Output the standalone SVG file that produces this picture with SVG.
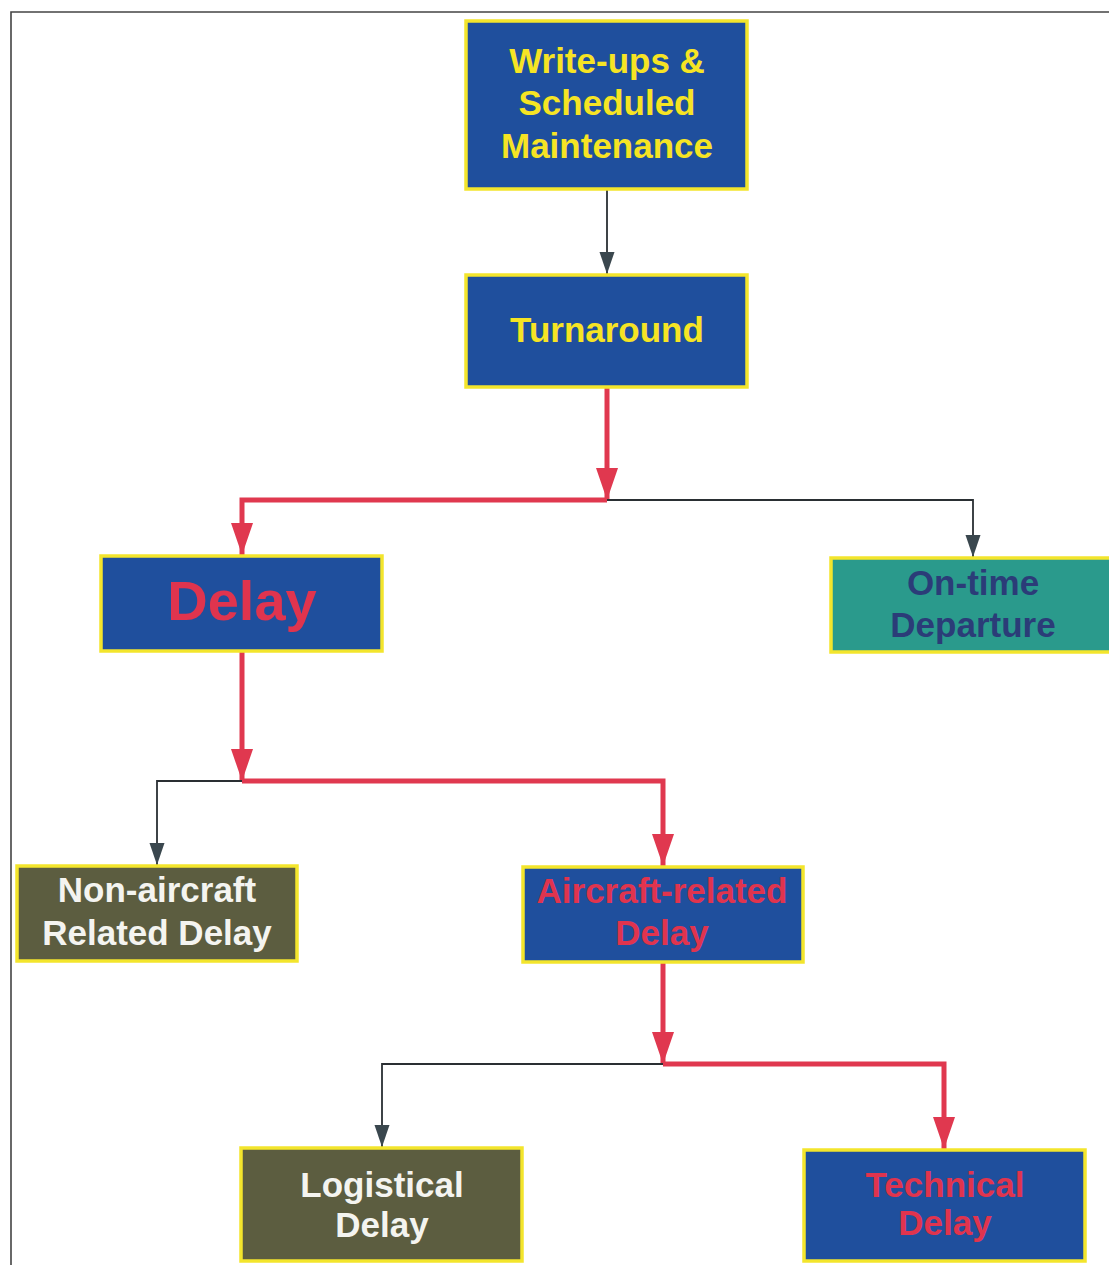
<svg xmlns="http://www.w3.org/2000/svg" width="1109" height="1265" viewBox="0 0 1109 1265">
<defs>
<style>
.box{stroke:#f3e52c;stroke-width:3.5}
.blue{fill:#1f4f9d}
.teal{fill:#2a9a8c}
.olive{fill:#5c5d40}
text{font-family:"Liberation Sans",Arial,sans-serif;font-weight:bold;font-size:35px;text-anchor:middle}
.ty{fill:#f6e424}
.tr{fill:#e0344e}
.tw{fill:#f4f4f0}
.td{fill:#2b3c78}
.red{fill:none;stroke:#e0384f;stroke-width:5}
.blk{fill:none;stroke:#2a2f33;stroke-width:1.8}
</style>
<marker id="ar" markerUnits="userSpaceOnUse" markerWidth="34" markerHeight="24" refX="32" refY="11" orient="auto" viewBox="0 0 34 24">
<path d="M0,0 L32,11 L0,22 z" fill="#e0384f"/>
</marker>
<marker id="ab" markerUnits="userSpaceOnUse" markerWidth="24" markerHeight="16" refX="22" refY="7.5" orient="auto" viewBox="0 0 24 16">
<path d="M0,0 L22,7.5 L0,15 z" fill="#3a474e"/>
</marker>
</defs>
<rect x="0" y="0" width="1109" height="1265" fill="#ffffff"/>
<path d="M11,1265 L11,12 L1109,12" fill="none" stroke="#444" stroke-width="1.6"/>
<g id="connectors">
<path class="blk" d="M607,190 L607,274" marker-end="url(#ab)"/>
<path class="red" d="M607,388 L607,500" marker-end="url(#ar)"/>
<path class="red" d="M607,500 L242,500 L242,555" marker-end="url(#ar)"/>
<path class="blk" d="M607,500 L973,500 L973,557" marker-end="url(#ab)"/>
<path class="red" d="M242,652 L242,781" marker-end="url(#ar)"/>
<path class="blk" d="M242,781 L157,781 L157,865" marker-end="url(#ab)"/>
<path class="red" d="M242,781 L663,781 L663,866" marker-end="url(#ar)"/>
<path class="red" d="M663,963 L663,1064" marker-end="url(#ar)"/>
<path class="blk" d="M663,1064 L382,1064 L382,1147" marker-end="url(#ab)"/>
<path class="red" d="M663,1064 L944,1064 L944,1149" marker-end="url(#ar)"/>
</g>
<g id="writeups">
<rect class="box blue" x="466" y="21" width="281" height="168"/>
<text class="ty" x="607" y="73">Write-ups &amp;</text>
<text class="ty" x="607" y="115">Scheduled</text>
<text class="ty" x="607" y="158">Maintenance</text>
</g>
<g id="turnaround">
<rect class="box blue" x="466" y="275" width="281" height="112"/>
<text class="ty" x="607" y="342">Turnaround</text>
</g>
<g id="delay">
<rect class="box blue" x="101" y="556" width="281" height="95"/>
<text class="tr" x="242" y="620" style="font-size:56px">Delay</text>
</g>
<g id="ontime">
<rect class="box teal" x="831" y="558" width="290" height="94"/>
<text class="td" x="973" y="595">On-time</text>
<text class="td" x="973" y="637">Departure</text>
</g>
<g id="nonaircraft">
<rect class="box olive" x="17" y="866" width="280" height="95"/>
<text class="tw" x="157" y="902">Non-aircraft</text>
<text class="tw" x="157" y="945">Related Delay</text>
</g>
<g id="aircraft">
<rect class="box blue" x="523" y="867" width="280" height="95"/>
<text class="tr" x="662" y="903">Aircraft-related</text>
<text class="tr" x="662" y="945">Delay</text>
</g>
<g id="logistical">
<rect class="box olive" x="241" y="1148" width="281" height="113"/>
<text class="tw" x="382" y="1197">Logistical</text>
<text class="tw" x="382" y="1237">Delay</text>
</g>
<g id="technical">
<rect class="box blue" x="804" y="1150" width="281" height="111"/>
<text class="tr" x="945" y="1197">Technical</text>
<text class="tr" x="945" y="1235">Delay</text>
</g>
</svg>
